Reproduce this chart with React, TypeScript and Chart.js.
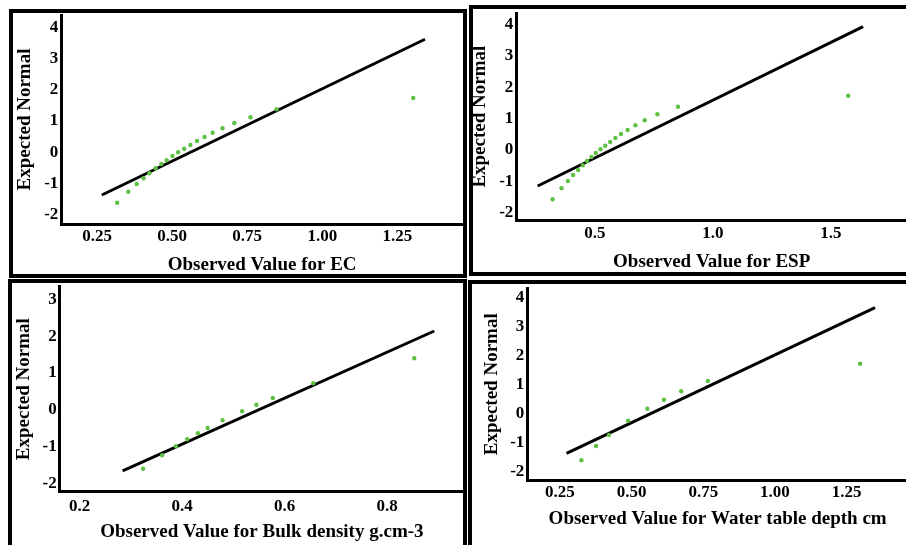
import React, { useEffect, useRef } from "react";
import { Chart, registerables } from "chart.js";

Chart.register(...registerables);

const FONT = "'Liberation Serif', 'Times New Roman', Times, serif";
const DOT_COLOR = "#5cc143";

// ---- Panel 1: EC ----
const ecObserved = [0.317, 0.354, 0.382, 0.405, 0.424, 0.445, 0.464, 0.482, 0.501, 0.52, 0.54, 0.561, 0.583, 0.608, 0.635, 0.668, 0.707, 0.761, 0.848, 1.303];
const ecExpected = [-1.614, -1.262, -1.015, -0.833, -0.672, -0.512, -0.375, -0.253, -0.118, 0.0, 0.112, 0.234, 0.362, 0.49, 0.624, 0.772, 0.938, 1.124, 1.38, 1.739];
const ecLineObserved = [0.266, 1.342];
const ecLineExpected = [-1.367, 3.62];
const ecXTicks = [0.25, 0.5, 0.75, 1.0, 1.25];
const ecYTicks = [-2, -1, 0, 1, 2, 3, 4];

// ---- Panel 2: ESP ----
const espObserved = [0.321, 0.359, 0.386, 0.408, 0.429, 0.449, 0.467, 0.486, 0.504, 0.524, 0.544, 0.565, 0.587, 0.611, 0.639, 0.672, 0.711, 0.765, 0.852, 1.573];
const espExpected = [-1.569, -1.219, -0.986, -0.795, -0.635, -0.486, -0.348, -0.221, -0.093, 0.025, 0.139, 0.257, 0.385, 0.513, 0.64, 0.79, 0.949, 1.14, 1.383, 1.733];
const espLineObserved = [0.258, 1.636];
const espLineExpected = [-1.145, 3.933];
const espXTicks = [0.5, 1.0, 1.5];
const espYTicks = [-2, -1, 0, 1, 2, 3, 4];

// ---- Panel 3: Bulk density ----
const bdObserved = [0.324, 0.361, 0.388, 0.41, 0.431, 0.45, 0.479, 0.517, 0.545, 0.577, 0.656, 0.853];
const bdExpected = [-1.591, -1.228, -0.984, -0.795, -0.632, -0.489, -0.28, -0.036, 0.142, 0.324, 0.722, 1.399];
const bdLineObserved = [0.284, 0.892];
const bdLineExpected = [-1.653, 2.139];
const bdXTicks = [0.2, 0.4, 0.6, 0.8];
const bdYTicks = [-2, -1, 0, 1, 2, 3];

// ---- Panel 4: Water table depth ----
const wtObserved = [0.325, 0.376, 0.421, 0.488, 0.555, 0.613, 0.673, 0.766, 1.297];
const wtExpected = [-1.614, -1.119, -0.738, -0.244, 0.172, 0.483, 0.774, 1.13, 1.729];
const wtLineObserved = [0.273, 1.349];
const wtLineExpected = [-1.372, 3.667];
const wtXTicks = [0.25, 0.5, 0.75, 1.0, 1.25];
const wtYTicks = [-2, -1, 0, 1, 2, 3, 4];

type PanelCfg = {
  left: number; top: number; boxW: number; boxH: number; canvasW: number; canvasH: number; border: number;
  yAxisW: number; xAxisH: number; padTop: number; padRight: number;
  xMin: number; xMax: number; yMin: number; yMax: number;
  xDec: number;
  obs: number[]; exp: number[]; lineObs: number[]; lineExp: number[];
  xTicks: number[]; yTicks: number[];
  xTitle: string; yTitle: string;
  xTitlePad: number; yTitlePad: number; xTickPad: number;
};

const panels: PanelCfg[] = [
  {
    left: 9, top: 9, boxW: 458, boxH: 269, canvasW: 458, canvasH: 269, border: 4,
    yAxisW: 52.3, xAxisH: 54, padTop: 6, padRight: 4,
    xMin: 0.131, xMax: 1.4686, yMin: -2.296, yMax: 4.396, xDec: 2,
    obs: ecObserved, exp: ecExpected, lineObs: ecLineObserved, lineExp: ecLineExpected,
    xTicks: ecXTicks, yTicks: ecYTicks,
    xTitle: "Observed Value for EC", yTitle: "Expected Normal",
    xTitlePad: 3.5, yTitlePad: 6.5, xTickPad: 2.5,
  },
  {
    left: 469, top: 5, boxW: 470, boxH: 271, canvasW: 442, canvasH: 271, border: 4,
    yAxisW: 47.3, xAxisH: 56, padTop: 8.3, padRight: 3,
    xMin: 0.1675, xMax: 1.822, yMin: -2.229, yMax: 4.36, xDec: 1,
    obs: espObserved, exp: espExpected, lineObs: espLineObserved, lineExp: espLineExpected,
    xTicks: espXTicks, yTicks: espYTicks,
    xTitle: "Observed Value for ESP", yTitle: "Expected Normal",
    xTitlePad: 4.8, yTitlePad: 1.5, xTickPad: 3.5,
  },
  {
    left: 8, top: 279, boxW: 459, boxH: 300, canvasW: 460.3, canvasH: 266, border: 4,
    yAxisW: 51.7, xAxisH: 53.3, padTop: 7.7, padRight: 3,
    xMin: 0.1613, xMax: 0.95, yMin: -2.214, yMax: 3.339, xDec: 1,
    obs: bdObserved, exp: bdExpected, lineObs: bdLineObserved, lineExp: bdLineExpected,
    xTicks: bdXTicks, yTicks: bdYTicks,
    xTitle: "Observed Value for Bulk density g.cm-3", yTitle: "Expected Normal",
    xTitlePad: 3.8, yTitlePad: 6.5, xTickPad: 5,
  },
  {
    left: 468, top: 280, boxW: 470, boxH: 300, canvasW: 444, canvasH: 265, border: 4,
    yAxisW: 59.3, xAxisH: 64.7, padTop: 8.3, padRight: 3,
    xMin: 0.1363, xMax: 1.464, yMin: -2.306, yMax: 4.338, xDec: 2,
    obs: wtObserved, exp: wtExpected, lineObs: wtLineObserved, lineExp: wtLineExpected,
    xTicks: wtXTicks, yTicks: wtYTicks,
    xTitle: "Observed Value for Water table depth cm", yTitle: "Expected Normal",
    xTitlePad: 16.5, yTitlePad: 14.2, xTickPad: 2,
  },
];

function QQPanel({ cfg }: { cfg: PanelCfg }) {
  const ref = useRef<HTMLCanvasElement | null>(null);
  useEffect(() => {
    if (!ref.current) return;
    const points = cfg.obs.map((x, i) => ({ x, y: cfg.exp[i] }));
    const line = cfg.lineObs.map((x, i) => ({ x, y: cfg.lineExp[i] }));
    const tickFont = { family: FONT, size: 17, weight: "bold" as const };
    const titleFont = { family: FONT, size: 19, weight: "bold" as const, lineHeight: 1 };
    const chart = new Chart(ref.current, {
      type: "scatter",
      data: {
        datasets: [
          {
            data: points,
            pointRadius: 2.2,
            pointBackgroundColor: DOT_COLOR,
            pointBorderWidth: 0,
            showLine: false,
          },
          {
            data: line,
            showLine: true,
            borderColor: "#000",
            borderWidth: 3,
            pointRadius: 0,
          },
        ],
      },
      options: {
        responsive: false,
        animation: false,
        devicePixelRatio: 1,
        layout: { padding: { left: 0, top: cfg.padTop, right: cfg.padRight, bottom: 0 } },
        plugins: { legend: { display: false }, tooltip: { enabled: false } },
        scales: {
          x: {
            type: "linear",
            position: "bottom",
            min: cfg.xMin,
            max: cfg.xMax,
            grid: { display: false, drawTicks: false },
            border: { display: true, color: "#000", width: 3 },
            ticks: {
              color: "#000",
              font: tickFont,
              padding: cfg.xTickPad,
              autoSkip: false,
              maxRotation: 0,
              callback: (v: any) => Number(v).toFixed(cfg.xDec),
            },
            title: {
              display: true,
              text: cfg.xTitle,
              color: "#000",
              font: titleFont,
              padding: { top: 0, bottom: cfg.xTitlePad },
            },
            afterBuildTicks: (s: any) => {
              s.ticks = cfg.xTicks.map((v) => ({ value: v }));
            },
            afterFit: (s: any) => {
              s.height = cfg.xAxisH;
              s.paddingLeft = 0; s.paddingRight = 0; s.paddingTop = 0; s.paddingBottom = 0;
            },
          },
          y: {
            type: "linear",
            position: "left",
            min: cfg.yMin,
            max: cfg.yMax,
            grid: { display: false, drawTicks: false },
            border: { display: true, color: "#000", width: 3 },
            ticks: {
              color: "#000",
              font: tickFont,
              padding: 3,
              autoSkip: false,
              callback: (v: any) => String(Math.round(Number(v))),
            },
            title: {
              display: true,
              text: cfg.yTitle,
              color: "#000",
              font: titleFont,
              padding: { top: cfg.yTitlePad, bottom: 0 },
            },
            afterBuildTicks: (s: any) => {
              s.ticks = cfg.yTicks.map((v) => ({ value: v }));
            },
            afterFit: (s: any) => {
              s.width = cfg.yAxisW;
              s.paddingLeft = 0; s.paddingRight = 0; s.paddingTop = 0; s.paddingBottom = 0;
            },
          },
        },
      },
    });
    return () => chart.destroy();
  }, [cfg]);

  return (
    <>
      <canvas
        ref={ref}
        width={Math.round(cfg.canvasW)}
        height={cfg.canvasH}
        style={{ position: "absolute", left: cfg.left, top: cfg.top, width: Math.round(cfg.canvasW), height: cfg.canvasH }}
      />
      <div
        style={{
          position: "absolute",
          left: cfg.left,
          top: cfg.top,
          width: cfg.boxW,
          height: cfg.boxH,
          boxSizing: "border-box",
          border: `${cfg.border}px solid #000`,
          pointerEvents: "none",
        }}
      />
    </>
  );
}

export default function App() {
  return (
    <div
      style={{
        position: "absolute",
        left: 0,
        top: 0,
        width: 906,
        height: 545,
        overflow: "hidden",
        background: "#fff",
      }}
    >
      {panels.map((p, i) => (
        <QQPanel key={i} cfg={p} />
      ))}
    </div>
  );
}
